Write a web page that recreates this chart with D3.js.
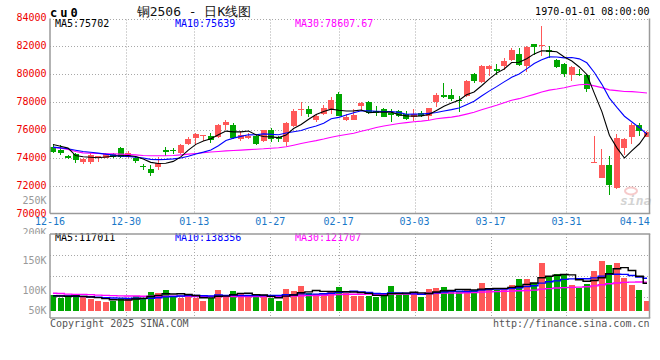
<!DOCTYPE html>
<html><head><meta charset="utf-8">
<script src="https://cdn.jsdelivr.net/npm/d3@7"></script>
<style>
body{margin:0;background:#fff;}
svg{display:block;}
text{font-family:"DejaVu Sans Mono",monospace;}
</style></head><body>
<svg id="c" width="660" height="360"></svg>
<script>
// ---------------- data ----------------
const dates = ["12-16","12-17","12-18","12-19","12-20","12-23","12-24","12-25","12-26","12-27","12-30","12-31",
"01-02","01-03","01-06","01-07","01-08","01-09","01-10","01-13","01-14","01-15","01-16","01-17","01-20","01-21","01-22","01-23","01-24","01-27",
"02-05","02-06","02-07","02-10","02-11","02-12","02-13","02-14","02-17","02-18","02-19","02-20","02-21","02-24","02-25","02-26","02-27","02-28",
"03-03","03-04","03-05","03-06","03-07","03-10","03-11","03-12","03-13","03-14","03-17","03-18","03-19","03-20","03-21","03-24","03-25","03-26","03-27","03-28","03-31",
"04-01","04-02","04-03","04-07","04-08","04-09","04-10","04-11","04-14","04-15","04-16"];
const open = [74760,74520,74120,74240,73670,73670,74000,74000,74240,74670,74050,74000,73400,73190,73290,74570,74570,74290,75000,75380,
75520,75520,75480,76290,76330,75330,75380,75570,75190,76000,75480,75100,76240,77380,77430,76710,77100,77430,78520,76710,
76710,77670,78000,77330,77430,77190,77330,77100,76860,77190,77000,77950,78480,78480,78140,78380,79950,79380,80330,80290,
80520,81000,81380,80520,82100,81980,81710,81000,80710,79860,79950,79860,73620,72570,73430,71810,74710,75480,76330,75480];
const high = [74930,74860,74210,74290,73950,74290,74140,74290,74330,74760,74430,74100,73520,73430,74050,74760,74710,75000,75430,75760,
75620,75760,76380,76710,76430,75900,75760,75670,76000,76100,75570,76570,77430,78000,77710,77140,77760,78330,78670,77100,
77430,77950,78050,77710,77520,77480,77380,77330,77430,77330,77570,78620,79290,78860,78380,79520,80050,80620,80620,80710,
81100,81810,81810,81950,82140,83360,82000,81050,80760,80520,80290,80000,75520,74620,74100,75710,75380,76480,76430,75860];
const low = [74290,74190,73880,73620,73570,73570,73670,73950,74000,74000,74000,73620,73100,72710,73100,74140,74240,74240,74900,74900,
75190,75050,75380,76000,75290,75190,75290,74900,75100,75140,75100,74810,76190,76950,76860,76520,77050,77100,76950,76620,
76670,77330,77100,76950,76860,76520,76860,76710,76620,76900,76670,77620,78240,78050,77240,78330,79290,79330,79810,79860,
80240,80860,80520,80140,81330,81240,81100,80380,79760,79430,79810,78670,73620,72570,71290,71760,74190,75000,75520,75430];
const close = [74380,74290,73950,73810,73860,74190,74100,74240,74050,74050,74290,73760,73310,72860,73620,74380,74450,74900,75290,75670,
75620,75240,76330,76570,75380,75620,75570,74950,75950,75290,75330,76480,77290,77430,77140,77000,77570,78140,77000,76900,
77050,77860,77190,77190,76900,77050,76950,76760,77100,77000,77520,78430,78290,78190,78050,79430,79430,80520,80570,80190,
80900,81710,80620,81860,81900,82020,81570,80430,79950,80480,79900,78900,73670,73430,72050,75380,75290,76290,75900,75810];
const ma5 = [74930,74810,74670,74140,74057,74019,73981,74038,74086,74124,74143,74076,73891,73653,73567,73586,73724,74043,74529,74938,
75186,75343,75629,75886,75828,75828,75895,75619,75495,75476,75419,75600,76067,76362,76733,77067,77286,77457,77371,77324,
77333,77391,77200,77238,77238,77238,77057,76971,76952,76971,77067,77362,77667,77886,78095,78476,78676,79124,79600,80029,
80324,80781,80800,81057,81400,81624,81595,81557,81176,80890,80467,79933,78581,77276,75591,74686,73962,74486,74981,75734];
const ma10 = [74740,74690,74620,74520,74430,74380,74310,74240,74170,74091,74081,74029,73964,73869,73845,73864,73900,73967,74091,74253,
74386,74533,74836,75207,75383,75507,75619,75624,75690,75652,75624,75747,75843,75929,76105,76243,76443,76762,76867,77029,
77200,77338,77329,77305,77281,77286,77224,77086,77095,77105,77152,77210,77319,77419,77533,77772,78019,78395,78743,79062,
79400,79729,79962,80329,80714,80974,81188,81179,81117,81145,81045,80764,80069,79226,78241,77576,76948,76534,76129,75662];
const ma30 = [74710,74670,74570,74430,74330,74310,74290,74260,74260,74240,74210,74190,74140,74120,74120,74120,74140,74190,74240,74290,
74340,74390,74430,74470,74500,74530,74560,74590,74620,74665,74697,74770,74881,75002,75111,75205,75321,75451,75549,75644,
75737,75873,76002,76147,76256,76345,76429,76490,76551,76595,76659,76765,76830,76884,76973,77100,77229,77414,77568,77732,
77918,78092,78203,78351,78510,78677,78810,78887,78985,79104,79199,79234,79117,78991,78829,78774,78718,78702,78663,78608];
const volume = [66000,56000,59000,70000,58000,52000,44000,38000,44000,56000,51000,65000,51000,82000,77000,89000,60000,56000,65000,56000,
44000,56000,89000,69000,84000,73000,60000,60000,60000,56000,44000,93000,86000,105000,76000,72000,75000,84000,101000,75000,
65000,65000,65000,59000,72000,105000,67000,75000,75000,60000,93000,97000,101000,82000,84000,89000,89000,118000,89000,89000,
93000,110000,135000,135000,118000,202000,143000,156000,152000,110000,97000,114000,169000,211000,194000,202000,139000,110000,89000,44000];
const volMa5 = [64000,63000,62000,63000,61800,59000,56600,52400,47200,46800,46600,50800,53400,61000,65200,72800,71800,72800,69400,65200,
56200,55400,62000,62800,68400,74200,75000,69200,67400,61800,56000,62600,67800,76800,80800,86400,82800,82400,81600,81400,
80000,78000,74200,65800,65200,73200,73600,75600,78800,76400,74000,80000,85200,86600,91400,90600,89000,92400,93800,94800,
95600,99800,103200,112400,118200,140000,146600,150800,154200,152600,131600,125800,128400,140200,157000,178000,183000,171200,146800,117011];
const volMa10 = [65000,64000,63000,62000,61000,60000,58000,56000,55000,54300,52800,53700,52900,54100,56000,59700,61300,63100,65200,65200,
64500,63600,67400,66100,66800,65200,65200,65600,65100,65100,65100,68800,68500,72100,71300,71200,72700,75100,79200,81100,
83200,80400,78300,73700,73300,76600,75800,74900,72300,70800,73600,76800,80400,82700,83900,82300,84500,88800,90200,93100,
93100,94400,97800,103100,106500,117800,123200,127000,133300,135400,135800,136200,139600,147200,154800,154800,154400,149800,143500,138356];
const volMa30 = [75000,74000,71000,70000,70000,69000,67000,66000,65000,64000,63000,63000,62000,62000,62000,62000,62000,62000,62000,61000,
61000,61000,61000,61000,61000,61000,61000,61000,61000,61500,60800,62000,62900,64100,64700,65400,66400,67900,69800,70500,
70900,70900,71400,70600,70500,71000,71200,71900,72200,72300,74000,75300,75700,76200,76200,76700,77700,79600,80600,81700,
83300,83900,85500,86500,87900,92200,94500,96900,98600,99800,100800,102500,105900,111000,115100,118300,120700,121900,122300,121707];
const priceTicks = [70000,72000,74000,76000,78000,80000,82000,84000];
const volTickValues = [250000,200000,150000,100000,50000];
const volTickLabels = ["250K","200K","150K","100K","50K"];
const dateTicks = ["12-16","12-30","01-13","01-27","02-17","03-03","03-17","03-31","04-14"];
const gridDates = ["12-30","01-13","01-27","02-17","03-03","03-17","03-31"];
const priceLegend = ["MA5:75702","MA10:75639","MA30:78607.67"];
const volLegend = ["MA5:117011","MA10:138356","MA30:121707"];
const legendColors = ["#000000","#0000ff","#ff00ff"];
const symbol = "cu0";
const title = "铜2506 - 日K线图";
const stamp = "1970-01-01 08:00:00";

// ---------------- layout ----------------
const L = 50, R = 649.5;
const mainTop = 17.5, mainBottom = 213.5;
const volTop = 234, volBase = 311, volBottom = 318;
const UP = "#ff5858", DOWN = "#00a600", GRID = "#a8a8a8", AXIS = "#9a9a9a";

const svg = d3.select("#c");
const N = dates.length;
const idx = d3.range(N);

const xb = d3.scaleBand().domain(dates).range([L, 650]).paddingInner(0.2).paddingOuter(0);
const xg = d3.scalePoint().domain(dates).range([L, 650]);
const bw = xb.bandwidth();
const cx = i => Math.floor(xb(dates[i]) + bw / 2) + 0.5;

const y = d3.scaleLinear().domain([70000, 84000]).range([mainBottom, mainTop]);
const yv = d3.scaleLinear().domain([0, 300000]).range([volBase, 239.9]);
const yvLab = d3.scaleLinear().domain([50000, 250000]).range([320, 200]);

svg.append("defs").append("clipPath").attr("id", "aboveVol")
  .append("rect").attr("x", 0).attr("y", 0).attr("width", 660).attr("height", volTop);

// ---------------- grid ----------------
const g = svg.append("g");
g.selectAll(".hg").data(priceTicks.filter(t => t > 70000 && t < 84000)).join("line")
  .attr("x1", L).attr("x2", R).attr("y1", d => Math.round(y(d)) + 0.5).attr("y2", d => Math.round(y(d)) + 0.5)
  .attr("stroke", GRID).attr("stroke-dasharray", "1,2");
g.append("line").attr("x1", L).attr("x2", R).attr("y1", Math.round(y(84000)) + 1.5).attr("y2", Math.round(y(84000)) + 1.5)
  .attr("stroke", GRID).attr("stroke-dasharray", "1,2");
g.selectAll(".vg").data(gridDates).join("line")
  .attr("x1", d => Math.round(xg(d)) + 0.5).attr("x2", d => Math.round(xg(d)) + 0.5)
  .attr("y1", y(84000) + 2).attr("y2", mainBottom).attr("stroke", GRID).attr("stroke-dasharray", "1,2");
g.selectAll(".vg2").data(gridDates).join("line")
  .attr("x1", d => Math.round(xg(d)) + 0.5).attr("x2", d => Math.round(xg(d)) + 0.5)
  .attr("y1", volTop).attr("y2", volBottom).attr("stroke", GRID).attr("stroke-dasharray", "1,2");
[1, 2, 3].forEach(k => {
  const yy = Math.round(volTop + (volBottom - volTop) * k / 4) + 0.5;
  g.append("line").attr("x1", L).attr("x2", R).attr("y1", yy).attr("y2", yy)
    .attr("stroke", GRID).attr("stroke-dasharray", "1,2");
});

// ---------------- sina watermark ----------------
const wm = svg.append("g").attr("opacity", 0.55);
wm.append("ellipse").attr("cx", 631).attr("cy", 191).attr("rx", 6).attr("ry", 3.5)
  .attr("fill", "none").attr("stroke", "#f0a0a0").attr("stroke-width", 2);
wm.append("text").attr("x", 620).attr("y", 205).text("sina")
  .attr("font-family", "DejaVu Sans").attr("font-style", "italic").attr("font-weight", "bold")
  .attr("font-size", 13).attr("fill", "#b0b0b0");

// ---------------- candles ----------------
const isUp = i => close[i] >= open[i];
const cg = svg.append("g").attr("shape-rendering", "crispEdges");
cg.selectAll(".wick").data(idx).join("line")
  .attr("x1", cx).attr("x2", cx)
  .attr("y1", i => y(high[i])).attr("y2", i => y(low[i]))
  .attr("stroke", i => isUp(i) ? UP : DOWN).attr("stroke-width", 1);
cg.selectAll(".body").data(idx).join("rect")
  .attr("x", i => Math.round(xb(dates[i])))
  .attr("width", Math.round(bw))
  .attr("y", i => y(Math.max(open[i], close[i])))
  .attr("height", i => Math.max(1, Math.abs(y(open[i]) - y(close[i]))))
  .attr("fill", i => isUp(i) ? UP : DOWN);

// ---------------- price MA lines ----------------
const maLine = arr => d3.line().x(i => xb(dates[i]) + bw / 2).y(i => y(arr[i]))(idx);
[[ma30, "#ff00ff"], [ma10, "#0000ff"], [ma5, "#000000"]].forEach(([arr, col]) => {
  svg.append("path").attr("d", maLine(arr)).attr("fill", "none").attr("stroke", col).attr("stroke-width", 1.1);
});

// ---------------- volume ----------------
const vg = svg.append("g").attr("shape-rendering", "crispEdges");
vg.selectAll("rect").data(idx).join("rect")
  .attr("x", i => Math.round(xb(dates[i])))
  .attr("width", Math.round(bw))
  .attr("y", i => yv(volume[i]))
  .attr("height", i => volBase - yv(volume[i]))
  .attr("fill", i => isUp(i) ? UP : DOWN);
const vLine = arr => d3.line().curve(d3.curveStep).x(i => xb(dates[i]) + bw / 2).y(i => yv(arr[i]))(idx);
[[volMa30, "#ff00ff"], [volMa10, "#0000ff"], [volMa5, "#000000"]].forEach(([arr, col]) => {
  svg.append("path").attr("d", vLine(arr)).attr("fill", "none").attr("stroke", col).attr("stroke-width", 1.4);
});

// ---------------- texts ----------------
const T = svg.append("g").attr("font-size", 10);
T.selectAll(".pt").data(priceTicks).join("text")
  .attr("x", 46.5).attr("y", d => y(d) + 3.6).attr("text-anchor", "end").attr("fill", "#ee0000").text(d => d);
// volume tick labels (placed as the reference shows them; the one under the date row is cut by the panel edge)
T.selectAll(".vt").data(volTickValues).join("text")
  .attr("x", 46.5)
  .attr("y", d => d === 200000 ? volTop + 1.5 : Math.min(yvLab(d), volBottom - 7.3) + 3.6)
  .attr("clip-path", d => d === 200000 ? "url(#aboveVol)" : null)
  .attr("text-anchor", "end").attr("fill", "#999").text((d, k) => volTickLabels[k]);
T.selectAll(".dt").data(dateTicks).join("text")
  .attr("x", d => xg(d)).attr("y", 225.3).attr("text-anchor", "middle").attr("fill", "#1a78c8").text(d => d);
const legX = [55, 175, 295];
priceLegend.forEach((s, k) => T.append("text").attr("x", legX[k]).attr("y", 27.4).attr("fill", legendColors[k]).text(s));
volLegend.forEach((s, k) => T.append("text").attr("x", legX[k]).attr("y", 240.8).attr("fill", legendColors[k]).text(s));
svg.append("text").attr("x", 50).attr("y", 16.5).attr("font-size", 12).attr("font-weight", "bold")
  .attr("letter-spacing", 3).attr("fill", "#000").text(symbol);
svg.append("text").attr("x", 194).attr("y", 16).attr("text-anchor", "middle")
  .attr("font-family", "'Noto Sans CJK SC', sans-serif").attr("font-size", 13).attr("fill", "#111").text(title);
T.append("text").attr("x", 649.5).attr("y", 15.4).attr("text-anchor", "end").attr("fill", "#000").text(stamp);
T.append("text").attr("x", 50).attr("y", 326.6).attr("fill", "#555").text("Copyright 2025 SINA.COM");
T.append("text").attr("x", 649.5).attr("y", 326.6).attr("text-anchor", "end").attr("fill", "#555").text("http://finance.sina.com.cn");

// ---------------- axes / borders (on top) ----------------
const ax = svg.append("g").attr("stroke", AXIS).attr("stroke-width", 1.5).attr("fill", "none");
ax.append("line").attr("x1", L).attr("x2", L).attr("y1", y(84000) + 1).attr("y2", mainBottom);
ax.append("line").attr("x1", R).attr("x2", R).attr("y1", y(84000) + 1).attr("y2", mainBottom);
ax.append("line").attr("x1", L).attr("x2", R + 0.75).attr("y1", mainBottom).attr("y2", mainBottom);
ax.append("line").attr("x1", L).attr("x2", R + 0.75).attr("y1", volTop).attr("y2", volTop);
ax.append("line").attr("x1", L).attr("x2", L).attr("y1", volTop).attr("y2", volBottom);
ax.append("line").attr("x1", R).attr("x2", R).attr("y1", volTop).attr("y2", volBottom);
ax.append("line").attr("x1", L).attr("x2", R + 0.75).attr("y1", volBottom).attr("y2", volBottom);
</script>
</body></html>
